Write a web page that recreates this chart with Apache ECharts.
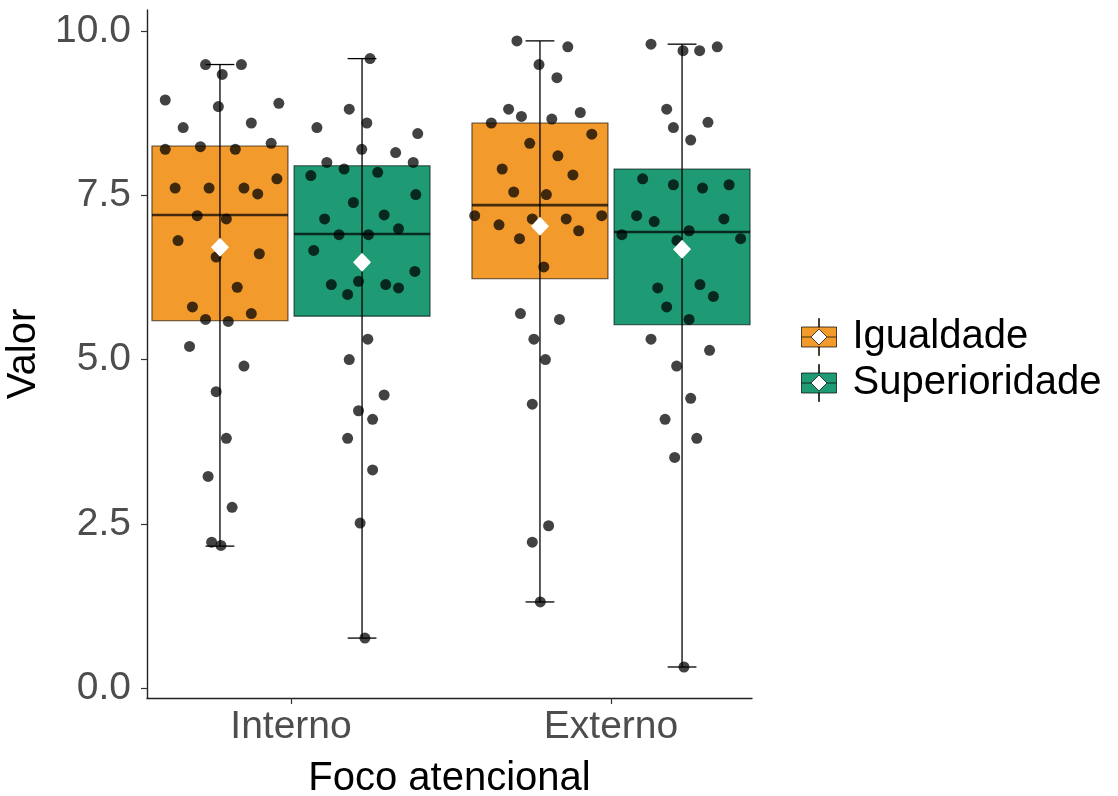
<!DOCTYPE html>
<html>
<head>
<meta charset="utf-8">
<script src="https://cdn.jsdelivr.net/npm/echarts@6/dist/echarts.min.js"></script>
<style>
html,body{margin:0;padding:0;background:#fff;}
#chart{width:1118px;height:796px;}
</style>
</head>
<body>
<div id="chart"></div>
<script>
// ---------- data ----------
const categories = ['Interno', 'Externo'];
const groups = ['Igualdade', 'Superioridade'];
const groupColors = ['#F39A2C', '#1E9A75'];
const yTicks = [0, 2.5, 5, 7.5, 10];

// box stats per category: [min, q1, median, q3, max]
const igualdadeBox = [[2.16, 5.59, 7.20, 8.25, 9.49], [1.31, 6.23, 7.35, 8.60, 9.85]];
const superioridadeBox = [[0.76, 5.66, 6.91, 7.95, 9.58], [0.32, 5.53, 6.94, 7.90, 9.80]];
const igualdadeMean = [6.71, 7.03];
const superioridadeMean = [6.48, 6.68];

// jittered observations (x on category scale, y value)
const igualdadeInternoX = [0.733,0.845,0.785,0.607,0.962,0.773,0.663,0.876,0.607,0.717,0.826,0.938,0.956,0.638,0.744,0.853,0.896,0.707,0.798,0.647,0.766,0.901,0.832,0.692,0.733,0.804,0.876,0.683,0.853,0.766,0.798,0.741,0.816,0.752,0.781];
const igualdadeInternoY = [9.49,9.49,9.34,8.95,8.90,8.85,8.53,8.60,8.20,8.24,8.20,8.29,7.75,7.61,7.61,7.61,7.52,7.19,7.14,6.81,6.56,6.61,6.10,5.80,5.61,5.58,5.70,5.20,4.90,4.51,3.80,3.22,2.75,2.22,2.17];

const superioridadeInternoX = [1.247,1.182,1.237,1.081,1.396,1.221,1.327,1.112,1.166,1.271,1.382,1.062,1.390,1.195,1.105,1.291,1.336,1.150,1.242,1.071,1.387,1.126,1.211,1.177,1.296,1.336,1.240,1.182,1.291,1.211,1.255,1.177,1.255,1.216,1.231];
const superioridadeInternoY = [9.58,8.81,8.60,8.53,8.44,8.20,8.15,8.00,7.90,7.85,8.00,7.80,7.51,7.39,7.14,7.20,6.99,6.90,6.90,6.66,6.34,6.14,6.19,5.99,6.14,6.09,5.31,5.00,4.46,4.22,4.09,3.80,3.32,2.51,0.76];

const igualdadeExternoX = [1.706,1.865,1.775,1.831,1.680,1.720,1.904,1.626,1.815,1.940,1.746,1.834,1.660,1.881,1.696,1.798,1.574,1.650,1.754,1.860,1.971,1.899,1.714,1.790,1.717,1.839,1.759,1.795,1.754,1.805,1.754,1.779];
const igualdadeExternoY = [9.85,9.76,9.49,9.29,8.81,8.70,8.76,8.60,8.66,8.43,8.29,8.10,7.90,7.81,7.55,7.51,7.19,7.05,7.14,7.14,7.19,6.96,6.84,6.41,5.70,5.61,5.31,5.00,4.32,2.47,2.22,1.31];

const superioridadeExternoX = [2.125,2.225,2.277,2.332,2.174,2.303,2.195,2.249,2.099,2.195,2.286,2.369,2.080,2.135,2.353,2.034,2.244,2.405,2.206,2.146,2.278,2.320,2.174,2.244,2.125,2.308,2.205,2.249,2.169,2.268,2.199,2.228];
const superioridadeExternoY = [9.80,9.70,9.70,9.76,8.81,8.61,8.53,8.34,7.75,7.66,7.61,7.66,7.19,7.10,7.14,6.90,6.96,6.84,6.81,6.09,6.14,5.96,5.80,5.61,5.31,5.14,4.90,4.41,4.09,3.80,3.51,0.32];

// ---------- layout constants ----------
const DODGE = 0.222;
const BOX_W = 0.425;
const CAP_W = 0.09;
const FONT = "'Liberation Sans', Arial, sans-serif";

function zip(xs, ys) { return xs.map((x, i) => [x, ys[i]]); }

function boxData(stats, gi) {
  const off = gi === 0 ? -DODGE : DODGE;
  return stats.map((s, ci) => [ci + 1 + off, s[0], s[1], s[2], s[3], s[4]]);
}
function meanData(means, gi) {
  const off = gi === 0 ? -DODGE : DODGE;
  return means.map((m, ci) => [ci + 1 + off, m]);
}

function renderBox(params, api) {
  const x = api.value(0);
  const tl = api.coord([x - BOX_W / 2, api.value(4)]);
  const br = api.coord([x + BOX_W / 2, api.value(2)]);
  const ml = api.coord([x - BOX_W / 2, api.value(3)]);
  const mr = api.coord([x + BOX_W / 2, api.value(3)]);
  return {
    type: 'group',
    children: [
      { type: 'rect', shape: { x: tl[0], y: tl[1], width: br[0] - tl[0], height: br[1] - tl[1] },
        style: { fill: api.visual('color'), stroke: 'rgba(0,0,0,0.65)', lineWidth: 1.1 } },
      { type: 'line', shape: { x1: ml[0], y1: ml[1], x2: mr[0], y2: mr[1] },
        style: { stroke: 'rgba(0,0,0,0.72)', lineWidth: 2.6 } }
    ]
  };
}

function renderWhisker(params, api) {
  const x = api.value(0);
  const lo = api.coord([x, api.value(1)]);
  const hi = api.coord([x, api.value(5)]);
  const loL = api.coord([x - CAP_W / 2, api.value(1)]);
  const loR = api.coord([x + CAP_W / 2, api.value(1)]);
  const hiL = api.coord([x - CAP_W / 2, api.value(5)]);
  const hiR = api.coord([x + CAP_W / 2, api.value(5)]);
  const st = { stroke: '#000', lineWidth: 1.3 };
  return {
    type: 'group',
    children: [
      { type: 'line', shape: { x1: lo[0], y1: lo[1], x2: hi[0], y2: hi[1] }, style: st },
      { type: 'line', shape: { x1: loL[0], y1: loL[1], x2: loR[0], y2: loR[1] }, style: st },
      { type: 'line', shape: { x1: hiL[0], y1: hiL[1], x2: hiR[0], y2: hiR[1] }, style: st }
    ]
  };
}

const legendIcon = 'path://M0,8.5L35,8.5L35,28.5L0,28.5Z M17.5,10.5L9.5,18.5L17.5,26.5L25.5,18.5Z M17,0L18,0L18,8.5L17,8.5Z M17,28.5L18,28.5L18,37L17,37Z M0,18.5L9.5,18.5 M25.5,18.5L35,18.5';

const pointStyle = { color: '#000', opacity: 0.74 };

const series = [];
[igualdadeBox, superioridadeBox].forEach((stats, gi) => {
  series.push({
    name: groups[gi], type: 'custom', renderItem: renderBox,
    itemStyle: { color: groupColors[gi] },
    encode: { x: 0, y: [1, 2, 3, 4, 5] },
    data: boxData(stats, gi), z: 2, silent: true
  });
  series.push({
    name: groups[gi] + '_whisker', type: 'custom', renderItem: renderWhisker,
    encode: { x: 0, y: [1, 5] },
    data: boxData(stats, gi), z: 3, silent: true
  });
});
[[igualdadeInternoX, igualdadeInternoY], [superioridadeInternoX, superioridadeInternoY],
 [igualdadeExternoX, igualdadeExternoY], [superioridadeExternoX, superioridadeExternoY]].forEach((p, i) => {
  series.push({
    name: 'pts' + i, type: 'scatter', symbol: 'circle', symbolSize: 11,
    itemStyle: pointStyle, data: zip(p[0], p[1]), z: 4, silent: true
  });
});
[igualdadeMean, superioridadeMean].forEach((m, gi) => {
  series.push({
    name: groups[gi] + '_mean', type: 'scatter', symbol: 'diamond', symbolSize: [18, 19],
    itemStyle: { color: '#fff', opacity: 1 }, data: meanData(m, gi), z: 5, silent: true
  });
});

const chart = echarts.init(document.getElementById('chart'), null, { renderer: 'canvas' });
chart.setOption({
  animation: false,
  backgroundColor: '#fff',
  textStyle: { fontFamily: FONT },
  grid: { left: 147, right: 366, top: 10, bottom: 98, containLabel: false, outerBoundsMode: 'none' },
  legend: {
    data: groups, orient: 'vertical', left: 796, top: 312,
    itemWidth: 35, itemHeight: 37, itemGap: 6, selectedMode: false,
    icon: legendIcon,
    itemStyle: { borderColor: 'rgba(0,0,0,0.7)', borderWidth: 1 },
    textStyle: { fontSize: 40, color: '#000', fontFamily: FONT, padding: [0, 0, 0, 11] }
  },
  xAxis: {
    type: 'value', min: 0.55, max: 2.4406,
    axisLine: { show: true, onZero: false, lineStyle: { color: '#222', width: 1.4 } },
    axisTick: { show: true, customValues: [1, 2], length: 6, lineStyle: { color: '#333', width: 1.2 } },
    axisLabel: { customValues: [1, 2], formatter: v => categories[Math.round(v) - 1] || '',
      fontSize: 39, color: '#4d4d4d', margin: 10, fontFamily: FONT },
    splitLine: { show: false },
    name: 'Foco atencional', nameLocation: 'middle', nameGap: 61,
    nameTextStyle: { fontSize: 40, color: '#000', fontFamily: FONT }
  },
  yAxis: {
    type: 'value', min: -0.152, max: 10.32,
    axisLine: { show: true, onZero: false, lineStyle: { color: '#222', width: 1.4 } },
    axisTick: { show: true, customValues: yTicks, length: 6, lineStyle: { color: '#333', width: 1.2 } },
    axisLabel: { customValues: yTicks, formatter: v => Number(v).toFixed(1),
      fontSize: 39, color: '#4d4d4d', margin: 16, fontFamily: FONT },
    splitLine: { show: false },
    name: 'Valor', nameLocation: 'middle', nameGap: 101, nameRotate: 90,
    nameTextStyle: { fontSize: 40, color: '#000', fontFamily: FONT }
  },
  series: series
});
</script>
</body>
</html>
